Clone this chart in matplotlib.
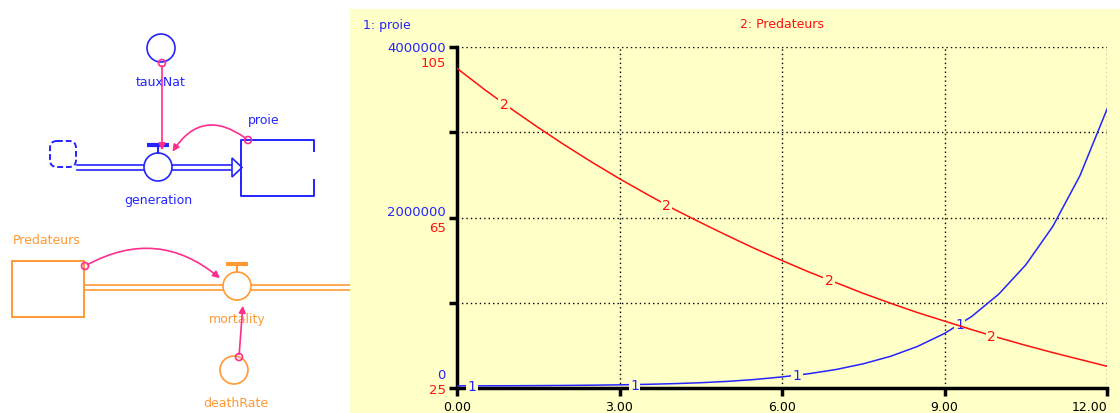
import numpy as np
import matplotlib
matplotlib.use("Agg")
import matplotlib.pyplot as plt
from matplotlib.patches import Circle, Rectangle, FancyArrowPatch, FancyBboxPatch, Polygon

# simulation output (time in years)
temps = [0, 0.5, 1, 1.5, 2, 2.5, 3, 3.5, 4, 4.5, 5, 5.5, 6,
         6.5, 7, 7.5, 8, 8.5, 9, 9.5, 10, 10.5, 11, 11.5, 12]
proie = [25000, 25500, 26500, 28000, 30000, 33000, 37000, 43000, 51000, 62000, 78000, 100000, 130000,
         168000, 217000, 284000, 371000, 487000, 640000, 838000, 1100000, 1444000, 1896000, 2490000, 3270000]
predateurs = [100, 95.1, 90.5, 86.1, 81.9, 77.9, 74.1, 70.5, 67.0, 63.8, 60.7, 57.7, 54.9,
              52.2, 49.7, 47.2, 44.9, 42.7, 40.7, 38.7, 36.8, 35.0, 33.3, 31.7, 30.1]

x_ticks = [0, 3, 6, 9, 12]
x_labels = ["0.00", "3.00", "6.00", "9.00", "12.00"]
proie_ticks = [0, 2000000, 4000000]
pred_ticks = [25, 65, 105]

BLUE = "#2424FF"
RED = "#FF1010"
ORANGE = "#FF9933"
PINK = "#FF2D8C"
YELLOW = "#FFFFC8"

W, H = 1120, 414
fig = plt.figure(figsize=(W / 100, H / 100), dpi=100)
fig.patch.set_facecolor("white")

# yellow graph panel
fig.patches.append(Rectangle((350 / W, 0), 1 - 350 / W, (H - 10) / H,
                             transform=fig.transFigure, facecolor=YELLOW, edgecolor="none", zorder=-5))

# ---------------- stock & flow diagram ----------------
d = fig.add_axes([0, 0, 350 / W, 1])
d.set_xlim(0, 350)
d.set_ylim(H, 0)
d.axis("off")

def valve(ax, cx, cy, col):
    ax.add_patch(Circle((cx, cy), 14, facecolor="white", edgecolor=col, lw=1.2, zorder=3))
    ax.plot([cx - 11, cx + 11], [cy - 22, cy - 22], color=col, lw=3, solid_capstyle="butt", zorder=3)
    ax.plot([cx, cx], [cy - 22, cy - 14], color=col, lw=1.5, zorder=3)

def pipe(ax, x0, x1, y, col):
    ax.plot([x0, x1], [y - 2.5, y - 2.5], color=col, lw=1.2, zorder=2)
    ax.plot([x0, x1], [y + 2.5, y + 2.5], color=col, lw=1.2, zorder=2)

def connector(ax, p0, p1, rad):
    ax.add_patch(FancyArrowPatch(p0, p1, connectionstyle=f"arc3,rad={rad}", arrowstyle="-|>",
                                 mutation_scale=10, color=PINK, lw=1.2, zorder=4))
    ax.add_patch(Circle(p0, 3.5, facecolor="none", edgecolor=PINK, lw=1.2, zorder=5))

# prey part (blue)
d.add_patch(FancyBboxPatch((52, 144), 22, 22, boxstyle="round,pad=2,rounding_size=7",
                           facecolor="white", edgecolor=BLUE, lw=1.4, linestyle=(0, (3, 1.5)), zorder=3))
pipe(d, 77, 232, 168.5, BLUE)
d.add_patch(Polygon([(232, 159), (242, 168.5), (232, 178)], closed=True,
                    facecolor="white", edgecolor=BLUE, lw=1.2, zorder=3))
valve(d, 158, 168, BLUE)
d.plot([241, 241, 314, 314], [182, 141, 141, 152], color=BLUE, lw=1.4, zorder=3)
d.plot([314, 314, 241, 241], [181, 197, 197, 178], color=BLUE, lw=1.4, zorder=3)
d.add_patch(Circle((161, 49), 14, facecolor="white", edgecolor=BLUE, lw=1.2, zorder=3))
d.text(161, 82, "tauxNat", color=BLUE, fontsize=9, ha="center", va="center")
d.text(158, 201, "generation", color=BLUE, fontsize=9, ha="center", va="center")
d.text(264, 121, "proie", color=BLUE, fontsize=9, ha="center", va="center")
connector(d, (162, 64), (162, 154), 0)
connector(d, (248, 141), (171, 155), 0.55)

# predator part (orange)
d.add_patch(Rectangle((12, 262), 72, 56, facecolor="white", edgecolor=ORANGE, lw=1.4, zorder=3))
pipe(d, 84, 350, 288, ORANGE)
valve(d, 237, 287, ORANGE)
d.add_patch(Circle((234, 371), 14, facecolor="white", edgecolor=ORANGE, lw=1.2, zorder=3))
d.text(47, 241, "Predateurs", color=ORANGE, fontsize=9, ha="center", va="center")
d.text(237, 320, "mortality", color=ORANGE, fontsize=9, ha="center", va="center", zorder=3)
d.text(236, 404, "deathRate", color=ORANGE, fontsize=9, ha="center", va="center")
connector(d, (85, 267), (222, 281), -0.35)
connector(d, (239, 358), (243, 304), 0)

# ---------------- graph ----------------
ax = fig.add_axes([457 / W, 1 - 389 / H, 650 / W, 341 / H])
ax.set_facecolor("none")
ax2 = ax.twinx()
ax2.set_facecolor("none")

ax.plot(temps, proie, color=BLUE, lw=1.1, zorder=3)
ax2.plot(temps, predateurs, color=RED, lw=1.1, zorder=3)

ax.set_xlim(0, 12)
ax.set_ylim(0, 4000000)
ax2.set_ylim(25, 105)

ax.set_xticks(x_ticks)
ax.set_xticklabels(x_labels, fontsize=9)
ax.get_xticklabels()[-1].set_horizontalalignment("right")
ax.set_yticks([0, 1000000, 2000000, 3000000, 4000000])
ax.set_yticklabels([])
ax.tick_params(axis="both", direction="out", length=6, width=2.5, color="black", pad=3)
ax2.set_yticks([])

for sp in ["top", "right"]:
    ax.spines[sp].set_visible(False)
    ax2.spines[sp].set_visible(False)
for sp in ["left", "bottom"]:
    ax.spines[sp].set_linewidth(2.5)
    ax2.spines[sp].set_visible(False)

# dotted grid incl. top and right borders
for xv in x_ticks[1:]:
    ax.plot([xv, xv], [0, 4000000], color="black", lw=1.0, ls=(0, (1, 2.2)), zorder=1)
for yv in [1000000, 2000000, 3000000, 4000000]:
    ax.plot([0, 12], [yv, yv], color="black", lw=1.0, ls=(0, (1, 2.2)), zorder=1)

# y labels, blue for proie and red for Predateurs
for v, dy in zip(proie_ticks, [10, 4, 0]):
    ax.annotate(f"{v}", (0, v), xytext=(-8, dy), textcoords="offset points",
                ha="right", va="center", color=BLUE, fontsize=9.5, annotation_clip=False)
for v, dy in zip(pred_ticks, [-1, -7, -11]):
    ax2.annotate(f"{v}", (0, v), xytext=(-8, dy), textcoords="offset points",
                 ha="right", va="center", color=RED, fontsize=9.5, annotation_clip=False)

# curve numbers
box = dict(boxstyle="square,pad=0.1", facecolor=YELLOW, edgecolor="none")
for t in [0.28, 3.28, 6.28, 9.28]:
    ax.text(t, np.interp(t, temps, proie), "1", color=BLUE, fontsize=10,
            ha="center", va="center", bbox=box, zorder=4)
for t in [0.87, 3.87, 6.87, 9.87]:
    ax2.text(t, np.interp(t, temps, predateurs), "2", color=RED, fontsize=10,
             ha="center", va="center", bbox=box, zorder=4)

fig.text(363 / W, 1 - 25 / H, "1: proie", color=BLUE, fontsize=9, ha="left", va="center")
fig.text(782 / W, 1 - 25 / H, "2: Predateurs", color=RED, fontsize=9, ha="center", va="center")

fig.savefig("out.png", dpi=100)
